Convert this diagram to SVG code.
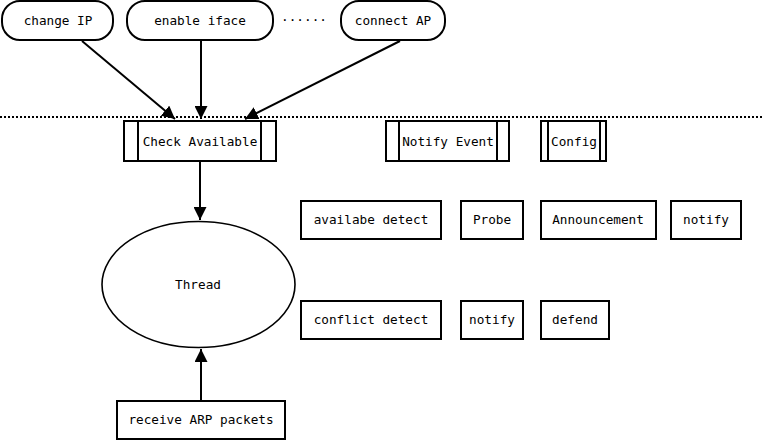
<svg xmlns="http://www.w3.org/2000/svg" width="763" height="441" viewBox="0 0 763 441">
<style>
.s{fill:#fff;stroke:#000;stroke-width:2}
.l{fill:none;stroke:#000;stroke-width:2}
text{font-family:"DejaVu Sans Mono",monospace;font-size:12.7px;fill:#000;text-anchor:middle}
</style>
<defs>
<marker id="ah" viewBox="0 0 10 10" refX="10" refY="5" markerWidth="6.5" markerHeight="6.5" orient="auto" markerUnits="strokeWidth">
<path d="M0,0 L10,5 L0,10 z" fill="#000"/>
</marker>
</defs>
<rect width="763" height="441" fill="#fff"/>
<line x1="0" y1="117" x2="763" y2="117" stroke="#000" stroke-width="2" stroke-dasharray="2,2"/>
<g id="changeIP"><rect class="s" x="2" y="1" width="111" height="39" rx="18"/><text x="58" y="25">change IP</text></g>
<g id="enableIface"><rect class="s" x="127" y="1" width="146" height="39" rx="18"/><text x="200" y="25">enable iface</text></g>
<text x="304" y="24">······</text>
<g id="connectAP"><rect class="s" x="341" y="1" width="104" height="39" rx="18"/><text x="393" y="25">connect AP</text></g>
<g id="checkAvailable"><rect class="s" x="124" y="121" width="152" height="40"/><line class="l" x1="138" y1="121" x2="138" y2="161"/><line class="l" x1="261" y1="121" x2="261" y2="161"/><text x="200" y="146">Check Available</text></g>
<g id="notifyEvent"><rect class="s" x="386" y="121" width="123" height="40"/><line class="l" x1="399" y1="121" x2="399" y2="161"/><line class="l" x1="497" y1="121" x2="497" y2="161"/><text x="448" y="146">Notify Event</text></g>
<g id="config"><rect class="s" x="541" y="121" width="65" height="40"/><line class="l" x1="548" y1="121" x2="548" y2="161"/><line class="l" x1="600" y1="121" x2="600" y2="161"/><text x="574" y="146">Config</text></g>
<g id="availDetect"><rect class="s" x="301" y="201" width="140" height="38"/><text x="371" y="224">availabe detect</text></g>
<g id="probe"><rect class="s" x="461" y="201" width="62" height="38"/><text x="492" y="224">Probe</text></g>
<g id="announcement"><rect class="s" x="541" y="201" width="115" height="38"/><text x="598" y="224">Announcement</text></g>
<g id="notify1"><rect class="s" x="671" y="201" width="70" height="38"/><text x="706" y="224">notify</text></g>
<g id="thread"><ellipse class="s" style="stroke-width:1.6" cx="198.5" cy="284.5" rx="96.5" ry="63"/><text x="198" y="289">Thread</text></g>
<g id="conflictDetect"><rect class="s" x="301" y="301" width="140" height="38"/><text x="371" y="324">conflict detect</text></g>
<g id="notify2"><rect class="s" x="461" y="301" width="62" height="38"/><text x="492" y="324">notify</text></g>
<g id="defend"><rect class="s" x="541" y="301" width="68" height="38"/><text x="575" y="324">defend</text></g>
<g id="receiveARP"><rect class="s" x="117" y="401" width="168" height="38"/><text x="201" y="424">receive ARP packets</text></g>
<g id="connectors">
<line class="l" x1="82" y1="41" x2="175" y2="119" marker-end="url(#ah)"/>
<line class="l" x1="201" y1="41" x2="201" y2="119" marker-end="url(#ah)"/>
<line class="l" x1="400" y1="41" x2="245" y2="119" marker-end="url(#ah)"/>
<line class="l" x1="200" y1="162" x2="200" y2="220" marker-end="url(#ah)"/>
<line class="l" x1="201" y1="400" x2="201" y2="349" marker-end="url(#ah)"/>
</g>
</svg>
